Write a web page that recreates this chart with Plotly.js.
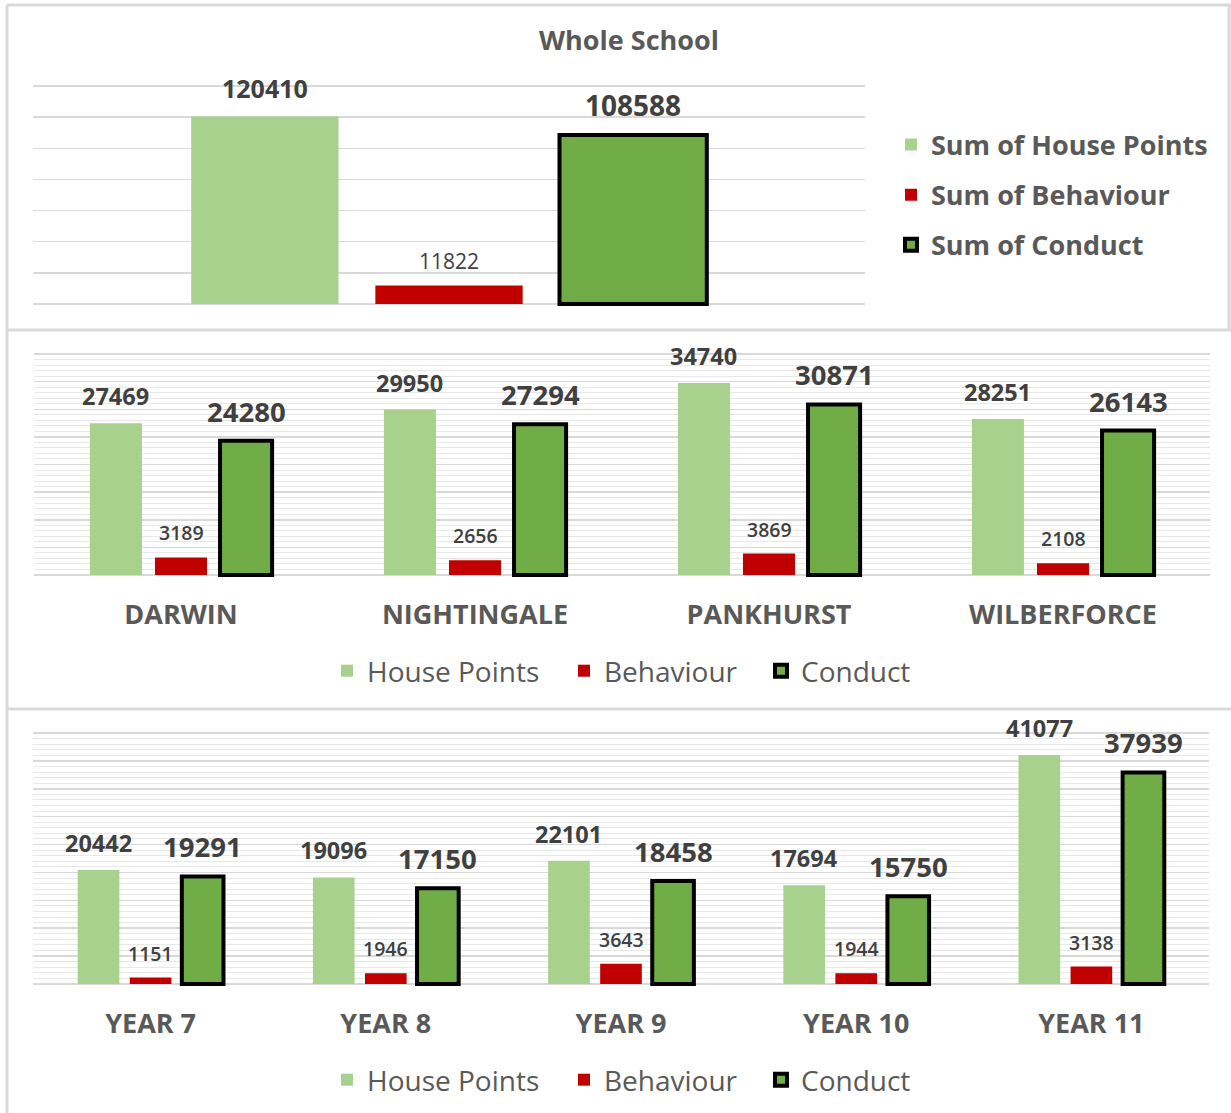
<!DOCTYPE html>
<html>
<head>
<meta charset="utf-8">
<script src="https://cdn.plot.ly/plotly-3.0.1.min.js"></script>
<style>html,body{margin:0;padding:0;background:#fff;}#chart{width:1231px;height:1113px;}</style>
</head>
<body>
<div id="chart"></div>
<script>
// ---- DATA ----
const schoolCategories = ["Whole School"];
const schoolHousePoints = [120410];
const schoolBehaviour = [11822];
const schoolConduct = [108588];

const houseCategories = ["DARWIN", "NIGHTINGALE", "PANKHURST", "WILBERFORCE"];
const houseHousePoints = [27469, 29950, 34740, 28251];
const houseBehaviour = [3189, 2656, 3869, 2108];
const houseConduct = [24280, 27294, 30871, 26143];

const yearCategories = ["YEAR 7", "YEAR 8", "YEAR 9", "YEAR 10", "YEAR 11"];
const yearHousePoints = [20442, 19096, 22101, 17694, 41077];
const yearBehaviour = [1151, 1946, 3643, 1944, 3138];
const yearConduct = [19291, 17150, 18458, 15750, 37939];

const schoolSeriesNames = ["Sum of House Points", "Sum of Behaviour", "Sum of Conduct"];
const seriesNames = ["House Points", "Behaviour", "Conduct"];
const chartTitle = "Whole School";

// ---- LAYOUT HELPERS ----
const W = 1231, H = 1113;
const FONT = "Open Sans, Lato, sans-serif";
const GREY = "#595959", LABEL = "#404040";
const px = v => v / W;
const py = v => 1 - v / H;
const BARGAP = 0.336, GROUPGAP = 0.2;
const EDGE = 3; // px padding so edge gridlines are drawn

const colors = ["#A9D18E", "#C00000", "#70AD47"];
const lines = [{width: 0}, {width: 0}, {color: "#000000", width: 4}];

const panels = [
  {cats: schoolCategories, series: [schoolHousePoints, schoolBehaviour, schoolConduct], names: schoolSeriesNames,
   xd: [33, 865], yd: [304, 86], ymax: 140000, dtick: 20000, minor: false, legendY: null,
   lab: [{size: 25, weight: "bold"}, {size: 21, weight: "normal"}, {size: 28, weight: "bold"}]},
  {cats: houseCategories, series: [houseHousePoints, houseBehaviour, houseConduct], names: seriesNames,
   xd: [34, 1210], yd: [575, 354], ymax: 40000, dtick: 5000, minor: true, legendY: 671,
   lab: [{size: 23.5, weight: "bold"}, {size: 19.5, weight: 600}, {size: 27.5, weight: "bold"}]},
  {cats: yearCategories, series: [yearHousePoints, yearBehaviour, yearConduct], names: seriesNames,
   xd: [33, 1209], yd: [984, 733], ymax: 45000, dtick: 5000, minor: true, legendY: 1080,
   lab: [{size: 23.5, weight: "bold"}, {size: 19.5, weight: 600}, {size: 27.5, weight: "bold"}]}
];
const legendItemX = [327, 564, 761]; // left edge of each horizontal legend entry (px)

const traces = [];
const annotations = [];
const layout = {
  width: W, height: H,
  margin: {l: 0, r: 0, t: 0, b: 0, pad: 0},
  paper_bgcolor: "#ffffff", plot_bgcolor: "rgba(0,0,0,0)",
  barmode: "group", bargap: BARGAP, bargroupgap: GROUPGAP,
  font: {family: FONT, color: GREY},
  title: {text: chartTitle, x: px(629), xref: "paper", xanchor: "center", y: py(41), yref: "paper", yanchor: "middle",
          font: {family: FONT, size: 27, weight: "bold", color: GREY}},
  showlegend: true,
  legend: {x: px(891), xanchor: "left", y: py(195), yanchor: "middle", orientation: "v",
           font: {family: FONT, size: 27, weight: "bold", color: GREY}, bgcolor: "rgba(0,0,0,0)",
           tracegroupgap: 12, traceorder: "grouped"},
  shapes: [],
  annotations: annotations
};

let legendCount = 1;
panels.forEach((p, k) => {
  const n = k + 1;
  const xa = n === 1 ? "x" : "x" + n, ya = n === 1 ? "y" : "y" + n;
  const plotW = p.xd[1] - p.xd[0];
  const slot = plotW / p.cats.length * (1 - BARGAP) / 3;
  p.series.forEach((vals, s) => {
    let legendId = "legend";
    if (p.legendY !== null) {
      legendCount += 1;
      legendId = "legend" + legendCount;
      layout[legendId] = {orientation: "h", x: px(legendItemX[s]), xanchor: "left", y: py(p.legendY), yanchor: "middle",
                          font: {family: FONT, size: 28, color: GREY}, bgcolor: "rgba(0,0,0,0)"};
    }
    traces.push({
      type: "bar", x: p.cats, y: vals, name: p.names[s], xaxis: xa, yaxis: ya,
      marker: {color: colors[s], line: lines[s]},
      legend: legendId, legendgroup: legendId + "_" + s, hoverinfo: "skip"
    });
    vals.forEach((v, i) => {
      annotations.push({
        xref: xa, yref: ya, x: p.cats[i], y: v, xshift: (s - 1) * slot, yshift: 9,
        xanchor: "center", yanchor: "bottom", showarrow: false, text: String(v),
        font: {family: FONT, size: p.lab[s].size, weight: p.lab[s].weight, color: LABEL}
      });
    });
  });
  layout[n === 1 ? "xaxis" : "xaxis" + n] = {
    domain: [px(p.xd[0]), px(p.xd[1])], anchor: ya, type: "category",
    range: [-0.5, p.cats.length - 0.5], showgrid: false, zeroline: false, showline: false, ticks: "",
    showticklabels: n > 1, ticklabelstandoff: 18,
    tickfont: {family: FONT, size: 27, weight: "bold", color: GREY}, fixedrange: true
  };
  const unit = p.ymax / (p.yd[0] - p.yd[1]);
  const yax = {
    domain: [py(p.yd[0] + EDGE), py(p.yd[1] - EDGE)], anchor: xa,
    range: [-EDGE * unit, p.ymax + EDGE * unit], dtick: p.dtick, tick0: 0,
    showgrid: true, gridcolor: "#D9D9D9", gridwidth: 1.5, zeroline: false, showline: false,
    showticklabels: false, ticks: "", fixedrange: true
  };
  if (p.minor) yax.minor = {dtick: 1000, tick0: 0, showgrid: true, gridcolor: "#E8E8E8", gridwidth: 1, ticks: ""};
  layout[n === 1 ? "yaxis" : "yaxis" + n] = yax;
});

// panel borders
const border = {color: "#D9D9D9", width: 3};
[[7, 5, 1231, 5], [7, 5, 7, 1113], [7, 330, 1231, 330], [7, 709, 1231, 709], [1229, 5, 1229, 330]].forEach(b => {
  layout.shapes.push({type: "line", xref: "paper", yref: "paper", x0: px(b[0]), y0: py(b[1]), x1: px(b[2]), y1: py(b[3]), line: border, layer: "above"});
});

Plotly.newPlot("chart", traces, layout, {displayModeBar: false, staticPlot: true});
</script>
</body>
</html>
